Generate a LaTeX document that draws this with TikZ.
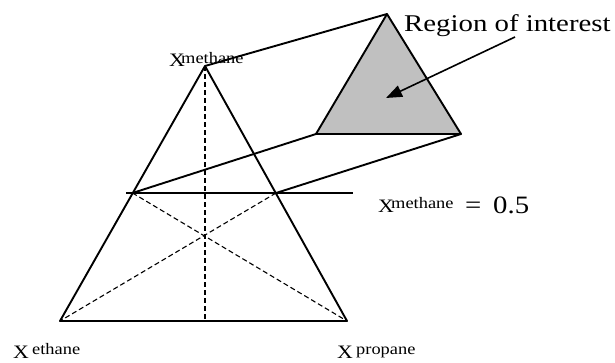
\documentclass[tikz,border=0pt]{standalone}
\usepackage{fontspec}
\setmainfont{Liberation Serif}
\usetikzlibrary{arrows.meta}
\definecolor{roigray}{HTML}{C0C0C0}
\tikzset{
  solidline/.style={line width=1.9pt, line join=round},
  dashline/.style={line width=1.1pt, dash pattern=on 5pt off 3pt},
  lbl/.style={inner sep=0pt, anchor=base west},
  bigx/.style={lbl, font=\fontsize{19}{19}\selectfont},
  sub/.style={lbl, font=\fontsize{16}{16}\selectfont},
}
\newcommand{\hs}[1]{\scalebox{1.15}[1]{#1}}
\begin{document}
\begin{tikzpicture}[x=1pt,y=-1pt]
\useasboundingbox (0,0) rectangle (615,362);
% big triangle vertices
\coordinate (A) at (205,66);
\coordinate (L) at (60,321);
\coordinate (R) at (347,321);
\coordinate (ML) at (132.5,193);
\coordinate (MR) at (276,193);
\coordinate (B) at (205,321);
\coordinate (HL) at (126,193);
\coordinate (HR) at (353,193);
% small triangle
\coordinate (SA) at (387,14);
\coordinate (SL) at (316,134);
\coordinate (SR) at (461,134);
% dashed internal lines
\draw[dashline] (A) -- (B);
\draw[dashline] (ML) -- (R);
\draw[dashline] (MR) -- (L);
% big triangle
\draw[solidline] (A) -- (L) -- (R) -- cycle;
\draw[solidline] (HL) -- (HR);
% projection lines
\draw[solidline] (A) -- (SA);
\draw[solidline] (ML) -- (SL);
\draw[solidline] (MR) -- (SR);
% region of interest
\filldraw[solidline, fill=roigray] (SA) -- (SL) -- (SR) -- cycle;
\node[lbl, font=\fontsize{24}{24}\selectfont] (roi) at (404,31) {\scalebox{1.2}[1]{Region of interest}};
\coordinate (arrS) at (515,37);
\coordinate (arrE) at (386,98);
\draw[line width=1.6pt, -{Triangle[length=16pt,width=12pt]}] (arrS) -- (arrE);
% labels
\node[bigx] (xm) at (169,66) {\hs{X}};
\node[sub] (m1) at (181,63) {\hs{methane}};
\node[bigx] (xe) at (13,358) {\hs{X}};
\node[sub] (e1) at (32,354) {\hs{ethane}};
\node[bigx] (xp) at (337,358) {\hs{X}};
\node[sub] (p1) at (356,354) {\hs{propane}};
\node[bigx] (xm2) at (378,212) {\hs{X}};
\node[sub] (m2) at (391,208) {\hs{methane}};
\node[lbl, font=\fontsize{25}{25}\selectfont] (eq) at (465,213) {\hs{=}};
\node[lbl, font=\fontsize{25}{25}\selectfont] (val) at (493,213) {\hs{0.5}};
\end{tikzpicture}
\end{document}
